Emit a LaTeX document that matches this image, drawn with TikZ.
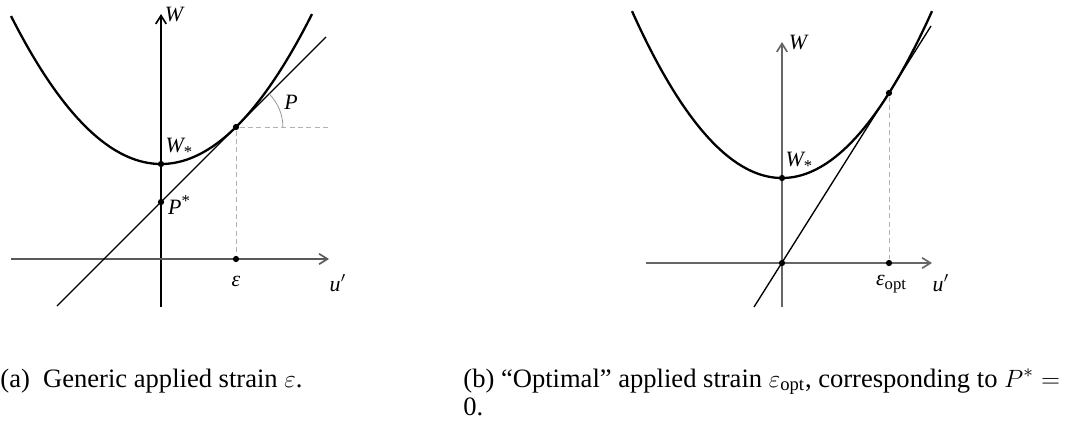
\documentclass[tikz,border=0pt]{standalone}
\usepackage{fontspec}
\setmainfont{Liberation Serif}
\usetikzlibrary{arrows.meta}
\begin{document}
\begin{tikzpicture}[x=0.48pt,y=-0.48pt,
  axisb/.style={line width=0.55pt,-{Straight Barb[length=4pt,width=5pt,line width=0.8pt]}},
  curve/.style={line width=1.1pt,black},
  tang/.style={line width=0.65pt,black},
  guide/.style={gray!60,line width=0.45pt,dash pattern=on 2.5pt off 1.5pt},
  dot/.style={circle,fill=black,inner sep=0pt,minimum size=3pt},
  lab/.style={font=\fontsize{10.5}{12}\selectfont\itshape,inner sep=1pt},
  captext/.style={font=\fontsize{12.75}{15}\selectfont,inner sep=0pt,anchor=base west}]
\useasboundingbox (0,0) rectangle (1078,423);
% ---------- left panel ----------
\coordinate (ay0) at (161,307);
\coordinate (ay1) at (161,14);
\coordinate (ax0) at (11,259);
\coordinate (ax1) at (329,259);
\draw[axisb,black] (ay0) -- (ay1);
\draw[axisb,black!65] (ax0) -- (ax1);
\draw[curve] plot[domain=11:312,samples=120,smooth] (\x,{164-0.00658*(\x-161)*(\x-161)});
\coordinate (t0) at (57,306);
\coordinate (t1) at (326,37);
\draw[tang] (t0) -- (t1);
\node[dot] (Pa) at (236,127) {};
\node[dot] (Wa) at (161,164) {};
\node[dot] (Psa) at (161,202) {};
\node[dot] (ea) at (236,259) {};
\coordinate (ha) at (329,127);
\draw[guide] (Pa) -- (ea);
\draw[guide] (Pa) -- (ha);
\draw[gray!80,line width=0.4pt] ([xshift=22.5pt]Pa.center) arc[start angle=0,end angle=45,radius=22.5pt];
\node[lab] (Wl) at (174,15) {W};
\node[lab] (ul) at (338,283) {u$'$};
\node[lab] (el) at (236,281) {ε};
\node[lab] (Wsl) at (179,148) {W\raisebox{-0.45ex}{\upshape\fontsize{8}{8}\selectfont *}};
\node[lab] (Psl) at (179,205) {P\raisebox{0.75ex}{\upshape\fontsize{8}{8}\selectfont *}};
\node[lab] (Pl) at (291,102) {P};
% ---------- right panel ----------
\coordinate (by0) at (782,307);
\coordinate (by1) at (782,42);
\coordinate (bx0) at (646,263);
\coordinate (bx1) at (932,263);
\draw[axisb,black!60] (by0) -- (by1);
\draw[axisb,black!60] (bx0) -- (bx1);
\draw[curve] plot[domain=632:932,samples=120,smooth] (\x,{178-0.00742*(\x-782)*(\x-782)});
\coordinate (s0) at (754,307);
\coordinate (s1) at (931,26);
\draw[tang] (s0) -- (s1);
\node[dot] (Pb) at (889,93) {};
\node[dot] (Wb) at (782,178) {};
\node[dot] (Ob) at (782,263) {};
\node[dot] (eb) at (889,263) {};
\draw[guide] (Pb) -- (eb);
\node[lab] (Wlb) at (798,43) {W};
\node[lab] (Wslb) at (799,162) {W\raisebox{-0.45ex}{\upshape\fontsize{8}{8}\selectfont *}};
\node[lab] (elb) at (891,284) {ε\raisebox{-0.45ex}{\upshape\fontsize{8}{8}\selectfont opt}};
\node[lab] (ulb) at (941,283) {u$'$};
% ---------- captions ----------
\node[captext] (capa) at (0,387) {(a)\ \ Generic applied strain $\varepsilon$.};
\node[captext] (capb) at (463,387) {(b) “Optimal” applied strain $\varepsilon_{\mathrm{opt}}$, corresponding to $P^*=$};
\node[captext] (capb2) at (463,415) {0.};
\end{tikzpicture}
\end{document}
